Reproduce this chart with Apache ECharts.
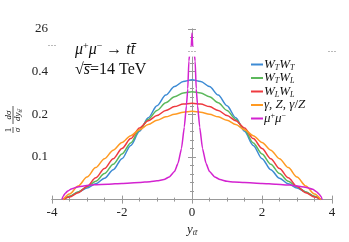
<!DOCTYPE html>
<html><head><meta charset="utf-8">
<script src="https://cdn.jsdelivr.net/npm/echarts@6/dist/echarts.min.js"></script>
<style>html,body{margin:0;padding:0;background:#fff}#c{width:349px;height:242px}</style>
</head><body><div id="c"></div>
<script>
// ---- data ----
const xTicks = [-4, -2, 0, 2, 4];
const yTickLabels = ['', '0.1', '0.2', '0.4', '26'];   // labels at the 5 visual divisions
const yTickValues = [0, 0.1, 0.2, 0.4, 26];

const xWTWT = [-3.68,-3.5,-3.25,-3.0,-2.75,-2.5,-2.25,-2.0,-1.75,-1.5,-1.25,-1.0,-0.75,-0.5,-0.25,0,0.25,0.5,0.75,1.0,1.25,1.5,1.75,2.0,2.25,2.5,2.75,3.0,3.25,3.5,3.68];
const yWTWT = [0,0.007,0.018,0.027,0.037,0.05,0.07,0.096,0.127,0.16,0.192,0.24,0.29,0.33,0.354,0.362,0.354,0.33,0.29,0.24,0.192,0.16,0.127,0.096,0.07,0.05,0.037,0.027,0.018,0.007,0];

const xWTWL = xWTWT;
const yWTWL = [0,0.008,0.018,0.03,0.043,0.061,0.083,0.107,0.133,0.164,0.188,0.218,0.254,0.282,0.3,0.306,0.3,0.282,0.254,0.218,0.188,0.164,0.133,0.107,0.083,0.061,0.043,0.03,0.018,0.008,0];

const xWLWL = xWTWT;
const yWLWL = [0,0.006,0.016,0.031,0.051,0.073,0.096,0.12,0.143,0.168,0.185,0.197,0.218,0.236,0.248,0.252,0.248,0.236,0.218,0.197,0.185,0.168,0.143,0.12,0.096,0.073,0.051,0.031,0.016,0.006,0];

const xGZ = xWTWT;
const yGZ = [0,0.013,0.032,0.053,0.075,0.096,0.116,0.134,0.15,0.164,0.176,0.186,0.194,0.2,0.21,0.214,0.21,0.2,0.194,0.186,0.176,0.164,0.15,0.134,0.116,0.096,0.075,0.053,0.032,0.013,0];

const xMuMu = [-3.72,-3.68,-3.62,-3.55,-3.45,-3.3,-3.1,-2.8,-2.4,-2.0,-1.5,-1.2,-1.0,-0.8,-0.65,-0.5,-0.4,-0.3,-0.22,-0.16,-0.12,-0.09,-0.05,-0.02,0,0.02,0.05,0.09,0.12,0.16,0.22,0.3,0.4,0.5,0.65,0.8,1.0,1.2,1.5,2.0,2.4,2.8,3.1,3.3,3.45,3.55,3.63,3.69,3.72];
const yMuMu = [0,0.008,0.015,0.02,0.025,0.029,0.032,0.035,0.036,0.038,0.04,0.042,0.044,0.047,0.053,0.066,0.085,0.12,0.17,0.24,0.32,0.45,3,20,24.6,20,3,0.45,0.32,0.24,0.17,0.12,0.085,0.066,0.053,0.047,0.043,0.041,0.04,0.038,0.036,0.034,0.031,0.028,0.024,0.019,0.013,0.007,0];

const names = ['WTWT','WTWL','WLWL','GZ','MUMU'];
const colors = ['#3d8bd4','#5cb85c','#ee3a3f','#ff9a22','#d323d0'];
const labelRich = {
  WTWT: '{i|W}{s|T}{i|W}{s|T}',
  WTWL: '{i|W}{s|T}{i|W}{s|L}',
  WLWL: '{i|W}{s|L}{i|W}{s|L}',
  GZ:   '{i|γ}{n|, }{i|Z}{n|, }{i|γ}{n|/}{i|Z}',
  MUMU: '{i|μ}{p|+}{i|μ}{p|−}'
};

// broken / piecewise axis transform (value -> visual unit)
function yMap(v){
  if (v <= 0.2) return v / 0.1;
  if (v <= 0.5) return 2 + (v - 0.2) / 0.2;
  if (v <= 20) return 3.5 + 0.1 * (v - 0.5) / 19.5;
  return 3.6 + 0.4 * (v - 20) / 6;
}
const tickU = yTickValues.map(yMap);

const SERIF = 'Liberation Serif';
const pairs = [[xWTWT,yWTWT],[xWTWL,yWTWL],[xWLWL,yWLWL],[xGZ,yGZ],[xMuMu,yMuMu]];

const chart = echarts.init(document.getElementById('c'), null, {renderer:'canvas'});
const axisCol = '#999';
const richStyles = {
  i: {fontFamily: SERIF, fontStyle:'italic', fontSize: 13, lineHeight: 14, color:'#111'},
  n: {fontFamily: SERIF, fontSize: 13, lineHeight: 14, color:'#111'},
  s: {fontFamily: SERIF, fontStyle:'italic', fontSize: 8, lineHeight: 8, verticalAlign:'bottom', color:'#111'},
  p: {fontFamily: SERIF, fontSize: 8, lineHeight: 8, verticalAlign:'top', color:'#111'}
};

chart.setOption({
  animation: false,
  grid: {left: 52, right: 17, top: 29, bottom: 33},
  xAxis: [{
    type:'value', min: xTicks[0], max: xTicks[xTicks.length-1], interval: 2, position:'bottom',
    axisLine:{show:true, lineStyle:{color:axisCol, width:1}},
    axisTick:{show:true, inside:true, length:4, lineStyle:{color:axisCol}},
    minorTick:{show:true, splitNumber:4, length:2, lineStyle:{color:axisCol}},
    splitLine:{show:false},
    axisLabel:{fontFamily:SERIF, fontSize:13, color:'#222', margin:6},
    name:'{i|y}{s|tt̄}', nameLocation:'middle', nameGap:19,
    nameTextStyle:{rich: {
      i:{fontFamily:SERIF, fontStyle:'italic', fontSize:13, lineHeight:14, color:'#222'},
      s:{fontFamily:SERIF, fontStyle:'italic', fontSize:8, lineHeight:8, verticalAlign:'bottom', color:'#222'}
    }}
  },{
    type:'value', min: xTicks[0], max: xTicks[xTicks.length-1], interval: 2, position:'top',
    axisLine:{show:true, lineStyle:{color:axisCol, width:1}},
    axisTick:{show:true, inside:true, length:4, lineStyle:{color:axisCol}},
    minorTick:{show:true, splitNumber:4, length:2, lineStyle:{color:axisCol}},
    splitLine:{show:false}, axisLabel:{show:false}
  }],
  yAxis: [{
    type:'value', min: tickU[0], max: tickU[tickU.length-1], interval: 1, position:'left',
    axisLine:{show:true, lineStyle:{color:axisCol, width:1}},
    axisTick:{show:true, inside:true, length:4, lineStyle:{color:axisCol}},
    minorTick:{show:true, splitNumber:5, length:2, lineStyle:{color:axisCol}},
    splitLine:{show:false},
    axisLabel:{fontFamily:SERIF, fontSize:13, color:'#222', margin:4,
      formatter: function(u){ const k = tickU.findIndex(t => Math.abs(t-u) < 1e-6); return k >= 0 ? yTickLabels[k] : ''; }}
  },{
    type:'value', min: tickU[0], max: tickU[tickU.length-1], interval: 1, position:'right',
    axisLine:{show:true, lineStyle:{color:axisCol, width:1}},
    axisTick:{show:true, inside:true, length:4, lineStyle:{color:axisCol}},
    minorTick:{show:true, splitNumber:5, length:2, lineStyle:{color:axisCol}},
    splitLine:{show:false}, axisLabel:{show:false}
  }],
  legend: {
    orient:'vertical', left: 246, top: 53, itemWidth: 12, itemHeight: 2, itemGap: 0,
    icon:'rect', data: names,
    formatter: n => labelRich[n],
    textStyle:{rich: richStyles, padding:[0,0,0,-4]}
  },
  series: pairs.map((p,k) => ({
    name: names[k], type:'line', showSymbol:false, smooth: k === 4 ? 0.15 : 0.3, smoothMonotone:'x',
    lineStyle:{color: colors[k], width: 1.5}, itemStyle:{color: colors[k]},
    data: p[0].map((x,i) => [x, yMap(p[1][i])]), z: 2 + k
  }))
});

// decorations: annotation texts, y-axis title, axis-break marks
const px = (x,u) => chart.convertToPixel({xAxisIndex:0, yAxisIndex:0}, [x,u]);
const uLeftBreak = 3.62, uBreak = 3.47;
const pL = px(xTicks[0], uLeftBreak), pR = px(xTicks[4], uBreak), pM = px(0, uBreak);
const gfx = [
  {type:'text', left: 75, top: 41, style:{text:'{i|μ}{p|+}{i|μ}{p|−}{n| → }{i|tt̄}', rich:{
     i:{fontFamily:SERIF, fontStyle:'italic', fontSize:16, lineHeight:17, fill:'#111'},
     n:{fontFamily:SERIF, fontSize:16, lineHeight:17, fill:'#111'},
     p:{fontFamily:SERIF, fontSize:10, lineHeight:10, verticalAlign:'top', fill:'#111'}}}},
  {type:'text', left: 75, top: 62, style:{text:'{n|√}{i|s̅}{n|=14 TeV}', rich:{
     i:{fontFamily:SERIF, fontStyle:'italic', fontSize:16, lineHeight:17, fill:'#111'},
     n:{fontFamily:SERIF, fontSize:16, lineHeight:17, fill:'#111'}}}},
  {type:'group', x: 13, y: 119, rotation: Math.PI/2, children:[
    {type:'text', x:-11, y:-4.5, style:{text:'1', fontFamily:SERIF, fontSize:9, fill:'#111', align:'center', verticalAlign:'middle'}},
    {type:'line', shape:{x1:-14, y1:0, x2:-8, y2:0}, style:{stroke:'#111', lineWidth:0.7}},
    {type:'text', x:-11, y:5, style:{text:'σ', fontFamily:SERIF, fontStyle:'italic', fontSize:9, fill:'#111', align:'center', verticalAlign:'middle'}},
    {type:'text', x:4, y:-4.5, style:{text:'dσ', fontFamily:SERIF, fontStyle:'italic', fontSize:9, fill:'#111', align:'center', verticalAlign:'middle'}},
    {type:'line', shape:{x1:-5, y1:0, x2:13, y2:0}, style:{stroke:'#111', lineWidth:0.7}},
    {type:'text', x:4, y:5, style:{text:'{i|dy}{s|tt̄}', align:'center', verticalAlign:'middle', rich:{
       i:{fontFamily:SERIF, fontStyle:'italic', fontSize:9, lineHeight:10, fill:'#111'},
       s:{fontFamily:SERIF, fontStyle:'italic', fontSize:6, lineHeight:6, verticalAlign:'bottom', fill:'#111'}}}}
  ]},
  {type:'rect', z:50, shape:{x:pL[0]-3, y:pL[1]-4, width:6, height:8}, style:{fill:'#fff'}},
  {type:'text', z:51, x:pL[0], y:pL[1], style:{text:'···', fontFamily:SERIF, fontSize:9, fill:'#333', align:'center', verticalAlign:'middle'}},
  {type:'rect', z:50, shape:{x:pR[0]-3, y:pR[1]-4, width:6, height:8}, style:{fill:'#fff'}},
  {type:'text', z:51, x:pR[0], y:pR[1], style:{text:'···', fontFamily:SERIF, fontSize:9, fill:'#333', align:'center', verticalAlign:'middle'}},
  {type:'rect', z:50, shape:{x:pM[0]-6, y:pM[1]-5, width:12, height:10}, style:{fill:'#fff'}},
  {type:'text', z:51, x:pM[0], y:pM[1], style:{text:'···', fontFamily:SERIF, fontSize:9, fill:'#333', align:'center', verticalAlign:'middle'}}
];
chart.setOption({graphic: gfx});
</script>
</body></html>
